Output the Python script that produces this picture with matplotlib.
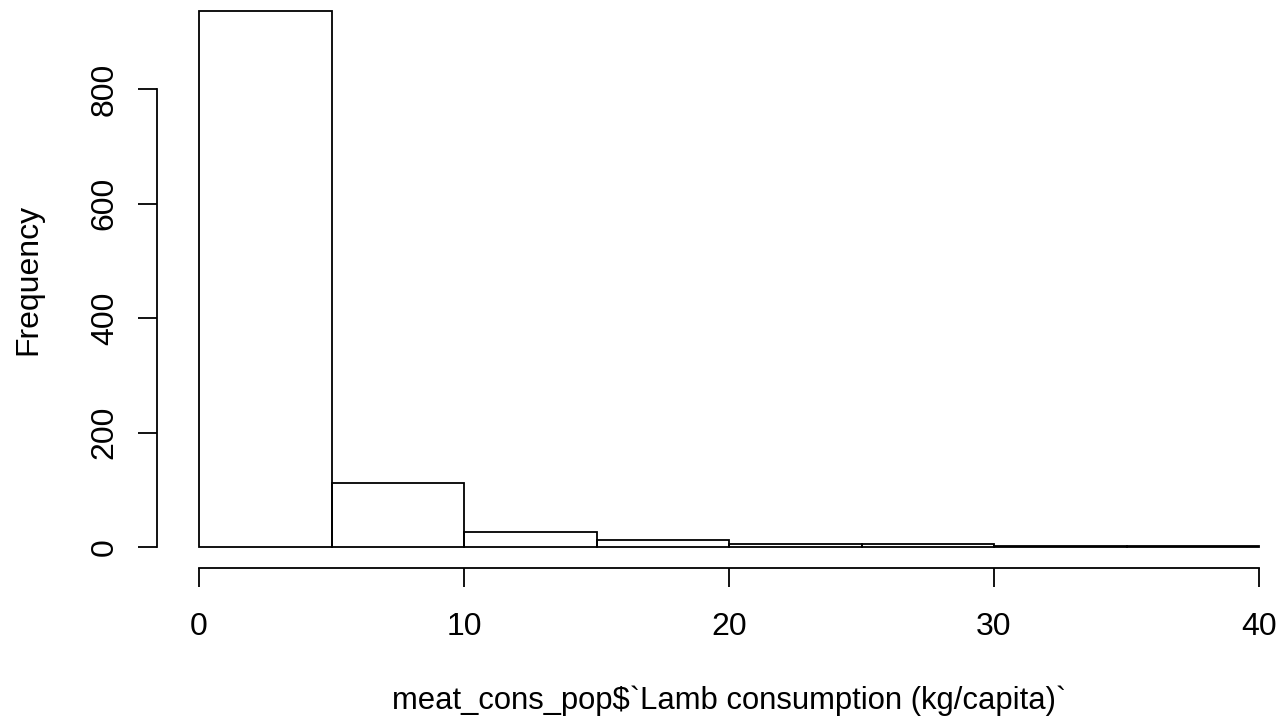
import matplotlib
matplotlib.use('Agg')
import matplotlib.pyplot as plt
import numpy as np

plt.rcParams['font.family'] = ['Liberation Sans', 'DejaVu Sans']

# histogram data
bin_edges = [0, 5, 10, 15, 20, 25, 30, 35, 40]
counts = [937, 112, 27, 13, 6, 6, 2, 2]
x_ticks = [0, 10, 20, 30, 40]
y_ticks = [0, 200, 400, 600, 800]
x_label = 'meat_cons_pop$`Lamb consumption (kg/capita)`'
y_label = 'Frequency'

W, H = 1285, 723
fig = plt.figure(figsize=(W / 100, H / 100), dpi=100)

# R style axes: ranges padded by 4 %
xmin, xmax = bin_edges[0], bin_edges[-1]
ymax = max(counts)
xpad = 0.04 * (xmax - xmin)
ypad = 0.04 * ymax
px_x = (1259 - 199) / (xmax - xmin)
px_y = (547 - 89.3) / 800
left_px = 199 - xpad * px_x
width_px = (xmax - xmin + 2 * xpad) * px_x
bottom_px = 547 + ypad * px_y
height_px = (ymax + 2 * ypad) * px_y
ax = fig.add_axes([left_px / W, (H - bottom_px) / H, width_px / W, height_px / H])
ax.set_xlim(xmin - xpad, xmax + xpad)
ax.set_ylim(-ypad, ymax + ypad)
ax.patch.set_alpha(0)

lw = 1.3
ax.bar(bin_edges[:-1], counts, width=np.diff(bin_edges), align='edge',
       fill=False, edgecolor='black', linewidth=lw)

# axes like base R graphics
for s in ['top', 'right']:
    ax.spines[s].set_visible(False)
ax.spines['left'].set_bounds(y_ticks[0], y_ticks[-1])
ax.spines['bottom'].set_bounds(x_ticks[0], x_ticks[-1])
for s in ['left', 'bottom']:
    ax.spines[s].set_linewidth(lw)

ax.set_xticks(x_ticks)
ax.set_yticks(y_ticks)
ax.set_yticklabels([str(v) for v in y_ticks], rotation=90, va='center')
ax.tick_params(axis='both', direction='out', length=13.5, width=lw, labelsize=23)
ax.tick_params(axis='x', pad=18)
ax.tick_params(axis='y', pad=13)

ax.set_xlabel(x_label, fontsize=22.3)
ax.xaxis.set_label_coords(0.5, -(686 - 569) / height_px)
ax.set_ylabel(y_label, fontsize=23)
ax.yaxis.set_label_coords((42 - 155) / width_px, 0.5)

fig.savefig('out.png', dpi=100)
